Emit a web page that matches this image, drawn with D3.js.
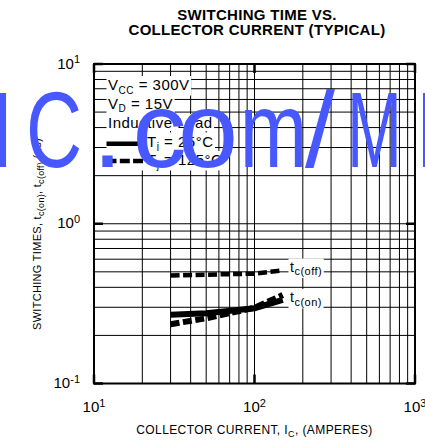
<!DOCTYPE html>
<html><head><meta charset="utf-8">
<script src="https://cdn.jsdelivr.net/npm/d3@7"></script>
<style>
body{margin:0;background:#fff}
svg{display:block;font-family:"Liberation Sans",Arial,Helvetica,sans-serif}
</style>
</head><body>
<svg id="chart" width="425" height="441"></svg>
<script>
// ---- data ----
const current   = [30, 50, 100, 150];            // I_C (A)
const tcOn25    = [0.269, 0.275, 0.296, 0.334];  // µs, Tj = 25°C (solid)
const tcOn125   = [0.235, 0.256, 0.298, 0.358];  // µs, Tj = 125°C (dashed)
const tcOff125  = [0.475, 0.480, 0.487, 0.510];  // µs, Tj = 125°C (dashed)
const xTickValues = [10, 100, 1000];
const xTickExps   = ["1", "2", "3"];
const yTickValues = [0.1, 1, 10];
const yTickExps   = ["-1", "0", "1"];
const titleLines  = ["SWITCHING TIME VS.", "COLLECTOR CURRENT (TYPICAL)"];
const legendMain  = ["V", "V", "Inductive Load", "T", "T"];
const legendSub   = ["CC", "D", "", "j", "j"];
const legendRest  = [" = 300V", " = 15V", "", " = 25°C", " = 125°C"];
const curveLabelSub = ["c(off)", "c(on)"];
const watermarkChars = ["I", "C", ".", "c", "o", "m", "/", "M", "I"];

// ---- layout ----
const L = 94, R = 415, T = 64, B = 383.5;
const svg = d3.select("#chart");
const x = d3.scaleLog().domain([10, 1000]).range([L, R]);
const y = d3.scaleLog().domain([0.1, 10]).range([B, T]);

// grid
const g = svg.append("g");
g.selectAll("line.vx").data(x.ticks()).join("line")
  .attr("x1", d => x(d)).attr("x2", d => x(d)).attr("y1", T).attr("y2", B)
  .attr("stroke", "#000").attr("stroke-width", 1);
g.selectAll("line.hy").data(y.ticks()).join("line")
  .attr("y1", d => y(d)).attr("y2", d => y(d)).attr("x1", L).attr("x2", R)
  .attr("stroke", "#000").attr("stroke-width", 1);

// major ticks (inside)
const tk = 9;
xTickValues.forEach(v => {
  g.append("line").attr("x1", x(v)).attr("x2", x(v)).attr("y1", B).attr("y2", B - tk).attr("stroke", "#000").attr("stroke-width", 2.5);
  g.append("line").attr("x1", x(v)).attr("x2", x(v)).attr("y1", T).attr("y2", T + tk).attr("stroke", "#000").attr("stroke-width", 2.5);
});
yTickValues.forEach(v => {
  g.append("line").attr("y1", y(v)).attr("y2", y(v)).attr("x1", L).attr("x2", L + tk).attr("stroke", "#000").attr("stroke-width", 2.5);
  g.append("line").attr("y1", y(v)).attr("y2", y(v)).attr("x1", R).attr("x2", R - tk).attr("stroke", "#000").attr("stroke-width", 2.5);
});

// frame
svg.append("rect").attr("x", L).attr("y", T).attr("width", R - L).attr("height", B - T)
  .attr("fill", "none").attr("stroke", "#000").attr("stroke-width", 2);

// curves
const line = d3.line().x((d, i) => x(current[i])).y(d => y(d));
const series = [
  {v: tcOn25, dash: null, w: 6},
  {v: tcOn125, dash: "9,3.5", w: 6},
  {v: tcOff125, dash: "9,3.5", w: 4.5}
];
svg.selectAll("path.curve").data(series).join("path")
  .attr("d", d => line(d.v)).attr("fill", "none").attr("stroke", "#000")
  .attr("stroke-width", d => d.w).attr("stroke-dasharray", d => d.dash);

// helper for text with sub-parts
function richText(parent, xPos, yPos, parts, attrs) {
  const t = parent.append("text").attr("x", xPos).attr("y", yPos);
  Object.entries(attrs || {}).forEach(([k, v]) => t.attr(k, v));
  let shift = 0;
  parts.forEach(p => {
    if (!p.t) return;
    const ts = t.append("tspan").text(p.t).attr("font-size", p.s);
    const dy = (p.dy || 0) - shift;
    if (dy) ts.attr("dy", dy);
    shift = p.dy || 0;
  });
  return t;
}
function backBox(parent, textSel, padX, padY, x0) {
  const bb = textSel.node().getBBox();
  const left = x0 !== undefined ? x0 : bb.x - padX;
  parent.insert("rect", () => textSel.node())
    .attr("x", left).attr("y", bb.y - padY)
    .attr("width", bb.x + bb.width + padX - left).attr("height", bb.height + 2 * padY)
    .attr("fill", "#fff");
}

// curve labels
const lab = svg.append("g");
const curveLabelY = [tcOff125[tcOff125.length - 1], 0.318];
curveLabelSub.forEach((s, i) => {
  const t = richText(lab, 290, y(curveLabelY[i]) + (i === 0 ? 1.5 : -0.8), [
    {t: "t", s: 14}, {t: s, s: 11, dy: 3.5}
  ], {"letter-spacing": 0.5});
  backBox(lab, t, 1.5, 0.5);
});

// legend
const leg = svg.append("g");
const legY = [90, 108.5, 128, 146.5, 165];
legendMain.forEach((m, i) => {
  const tx = i >= 3 ? 147 : 108;
  const t = richText(leg, tx, legY[i], [
    {t: m, s: 15}, {t: legendSub[i], s: 10, dy: 3.5}, {t: legendRest[i], s: 15, dy: 0}
  ], {"letter-spacing": 0.5});
  backBox(leg, t, 1.5, 0, 106.5);
});
leg.append("line").attr("x1", 106.5).attr("x2", 138.5).attr("y1", 143.7).attr("y2", 143.7)
  .attr("stroke", "#000").attr("stroke-width", 4.5);
leg.append("line").attr("x1", 106.5).attr("x2", 143).attr("y1", 161).attr("y2", 161)
  .attr("stroke", "#000").attr("stroke-width", 4.5).attr("stroke-dasharray", "10,3.3");

// tick labels
xTickValues.forEach((v, i) => {
  richText(svg, x(v), 412.3, [{t: "10", s: 15}, {t: xTickExps[i], s: 11, dy: -5.5}], {"text-anchor": "middle"});
});
yTickValues.forEach((v, i) => {
  richText(svg, 80, y(v) + 4.5, [{t: "10", s: 15}, {t: yTickExps[i], s: 11, dy: -5.5}], {"text-anchor": "end"});
});

// axis titles
richText(svg, 254.5, 434, [
  {t: "COLLECTOR CURRENT, I", s: 12}, {t: "C", s: 9, dy: 3}, {t: ", (AMPERES)", s: 12, dy: 0}
], {"text-anchor": "middle", "letter-spacing": 0.4});
const yl = svg.append("g").attr("transform", "translate(41,330) rotate(-90)");
richText(yl, 0, 0, [
  {t: "SWITCHING TIMES, t", s: 11}, {t: "c(on)", s: 9, dy: 2.5},
  {t: ", t", s: 11, dy: 0}, {t: "c(off)", s: 9, dy: 2.5}, {t: " (µs)", s: 11, dy: 0}
], {"letter-spacing": 0.3});

// title
titleLines.forEach((s, i) => {
  svg.append("text").attr("x", 257).attr("y", 20 + i * 15).attr("text-anchor", "middle")
    .attr("font-size", 15).attr("font-weight", "bold").attr("letter-spacing", 0.3).text(s);
});

// watermark
const wmX = [1, 54, 107.5, 159.5, 208, 273.5, 320, 374.5, 428];
const wmS = [1, 0.72, 1, 1, 1, 0.75, 1, 0.61, 1];
const wm = svg.append("g").attr("fill", "#4858ff").attr("font-size", 108);
watermarkChars.forEach((c, i) => {
  wm.append("text").attr("text-anchor", "middle")
    .attr("transform", `translate(${wmX[i]},167) scale(${wmS[i]},1)`).text(c);
});
</script>
</body></html>
